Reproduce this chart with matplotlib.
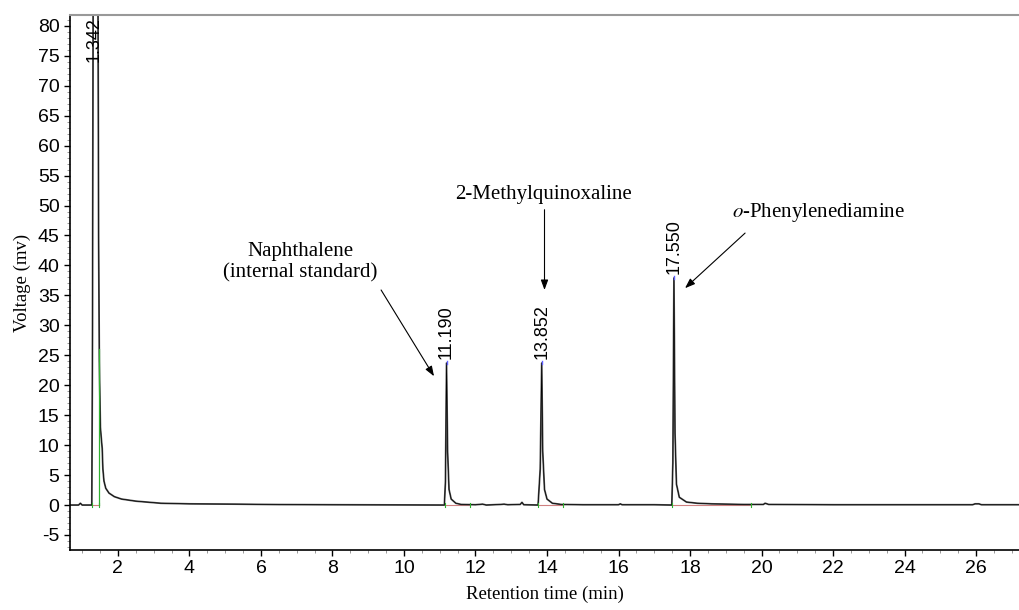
import numpy as np
import matplotlib.pyplot as plt
from matplotlib.ticker import MultipleLocator

# Chromatogram trace (retention time in min, signal in mV)
trace_time = [0.66, 0.90, 0.95, 1.00, 1.27, 1.29, 1.31, 1.34, 1.40, 1.44, 1.46,
              1.48, 1.51, 1.54, 1.56, 1.58, 1.61, 1.66, 1.75, 1.90, 2.10, 2.50,
              3.00, 3.20, 4.00, 5.30, 6.50, 8.00, 10.00, 11.13, 11.16, 11.19,
              11.22, 11.26, 11.32, 11.45, 11.60, 12.00, 12.20, 12.30, 12.70,
              12.80, 12.90, 13.25, 13.30, 13.35, 13.75, 13.81, 13.852, 13.88,
              13.93, 14.00, 14.15, 14.40, 15.00, 16.00, 16.05, 16.10, 17.00,
              17.49, 17.52, 17.55, 17.58, 17.62, 17.70, 17.90, 18.20, 18.60,
              19.50, 20.05, 20.10, 20.20, 22.00, 25.90, 25.97, 26.08, 26.15, 27.20]
trace_mv = [0.0, 0.0, 0.3, 0.0, 0.0, 30.0, 95.0, 120.0, 120.0, 90.0, 45.0,
            24.0, 13.0, 10.8, 9.5, 6.0, 4.0, 2.8, 2.0, 1.4, 1.0, 0.65,
            0.4, 0.3, 0.2, 0.15, 0.08, 0.05, 0.02, 0.0, 4.0, 23.7,
            9.0, 2.6, 1.0, 0.3, 0.1, 0.05, 0.15, 0.0, 0.1,
            0.15, 0.05, 0.1, 0.45, 0.05, 0.0, 6.0, 23.7, 9.0,
            2.6, 1.0, 0.3, 0.1, 0.05, 0.05, 0.2, 0.05, 0.05,
            0.0, 7.0, 37.9, 12.0, 3.5, 1.3, 0.5, 0.3, 0.2,
            0.1, 0.1, 0.3, 0.1, 0.05, 0.05, 0.2, 0.2, 0.05, 0.05]

# Integrated peaks: apex time, apex height, baseline start/end
peak_times = [1.342, 11.190, 13.852, 17.550]
peak_heights = [120.0, 23.7, 23.7, 37.9]
base_start = [1.28, 11.16, 13.74, 17.50]
base_end = [1.47, 11.84, 14.45, 19.70]
peak_labels = ['1.342', '11.190', '13.852', '17.550']

x_ticks = [2, 4, 6, 8, 10, 12, 14, 16, 18, 20, 22, 24, 26]
y_ticks = [-5, 0, 5, 10, 15, 20, 25, 30, 35, 40, 45, 50, 55, 60, 65, 70, 75, 80]

serif = ['Liberation Serif', 'DejaVu Serif']
sans = ['Liberation Sans', 'DejaVu Sans']

plt.rcParams['mathtext.fontset'] = 'stix'
plt.rcParams['axes.unicode_minus'] = False


def main():
    fig = plt.figure(figsize=(10.19, 6.10), dpi=100)
    ax = fig.add_axes([0.0687, 0.0984, 0.9313, 0.877])

    # baselines and integration marks
    for s, e in zip(base_start, base_end):
        ax.plot([s, e], [0, 0], color='#d08080', lw=0.8, zorder=1)
        ax.plot([s, s], [-0.3, 0.3], color='#30b030', lw=0.8, zorder=3)
        ax.plot([e, e], [-0.3, 0.3], color='#30b030', lw=0.8, zorder=3)
    ax.plot([1.47, 1.47], [0, 26], color='#30b030', lw=0.9, zorder=3)

    ax.plot(trace_time, trace_mv, color='#5a5a5a', lw=1.3, zorder=2)
    ax.plot(trace_time, trace_mv, color='black', lw=0.5, zorder=2)

    for t, h in zip(peak_times[1:], peak_heights[1:]):
        ax.plot([t, t], [h - 0.2, h + 0.3], color='#6060ff', lw=1.0, zorder=3)

    # retention time labels above each apex
    for t, h, lab in zip(peak_times, peak_heights, peak_labels):
        if h > 80:
            ax.text(t, 81.4, lab, rotation=90, ha='center', va='top',
                    fontsize=13, family=sans)
        else:
            ax.text(t, h + 0.6, lab, rotation=90, ha='center', va='bottom',
                    fontsize=13, family=sans)

    arrow = dict(arrowstyle='-|>,head_length=0.6,head_width=0.22',
                 color='black', lw=0.8, shrinkA=0, shrinkB=0)
    ax.annotate('', xy=(10.84, 21.5), xytext=(9.36, 35.9), arrowprops=arrow)
    ax.annotate('', xy=(13.93, 35.9), xytext=(13.93, 49.3), arrowprops=arrow)
    ax.annotate('', xy=(17.86, 36.2), xytext=(19.54, 45.4), arrowprops=arrow)

    ax.text(7.11, 40.6, 'Naphthalene\n(internal standard)', ha='center',
            va='center', fontsize=15, family=serif, linespacing=1.15)
    ax.text(13.9, 51.8, '2-Methylquinoxaline', ha='center', va='center',
            fontsize=15, family=serif)
    ax.text(21.6, 48.8, r'$\mathit{o}$-Phenylenediamine', ha='center',
            va='center', fontsize=15, family=serif)

    ax.set_xlim(0.66, 27.2)
    ax.set_ylim(-7.5, 81.8)
    ax.set_xticks(x_ticks)
    ax.set_yticks(y_ticks)
    ax.xaxis.set_minor_locator(MultipleLocator(0.5))
    ax.yaxis.set_minor_locator(MultipleLocator(1))
    ax.tick_params(which='major', direction='out', length=4, width=1.0,
                   labelsize=14)
    ax.tick_params(which='minor', direction='out', length=2.5, width=0.6,
                   color='#888888')
    for lab in ax.get_xticklabels() + ax.get_yticklabels():
        lab.set_family(sans)

    ax.spines['right'].set_visible(False)
    ax.spines['top'].set_color('#999999')
    ax.spines['top'].set_linewidth(1.5)
    ax.spines['left'].set_linewidth(1.2)
    ax.spines['bottom'].set_linewidth(1.2)

    ax.set_xlabel('Retention time (min)', fontsize=13.5, family=serif,
                  labelpad=6)
    ax.set_ylabel('Voltage (mv)', fontsize=13.5, family=serif, labelpad=5)

    fig.savefig('out.png', dpi=100)


if __name__ == "__main__":
    main()
